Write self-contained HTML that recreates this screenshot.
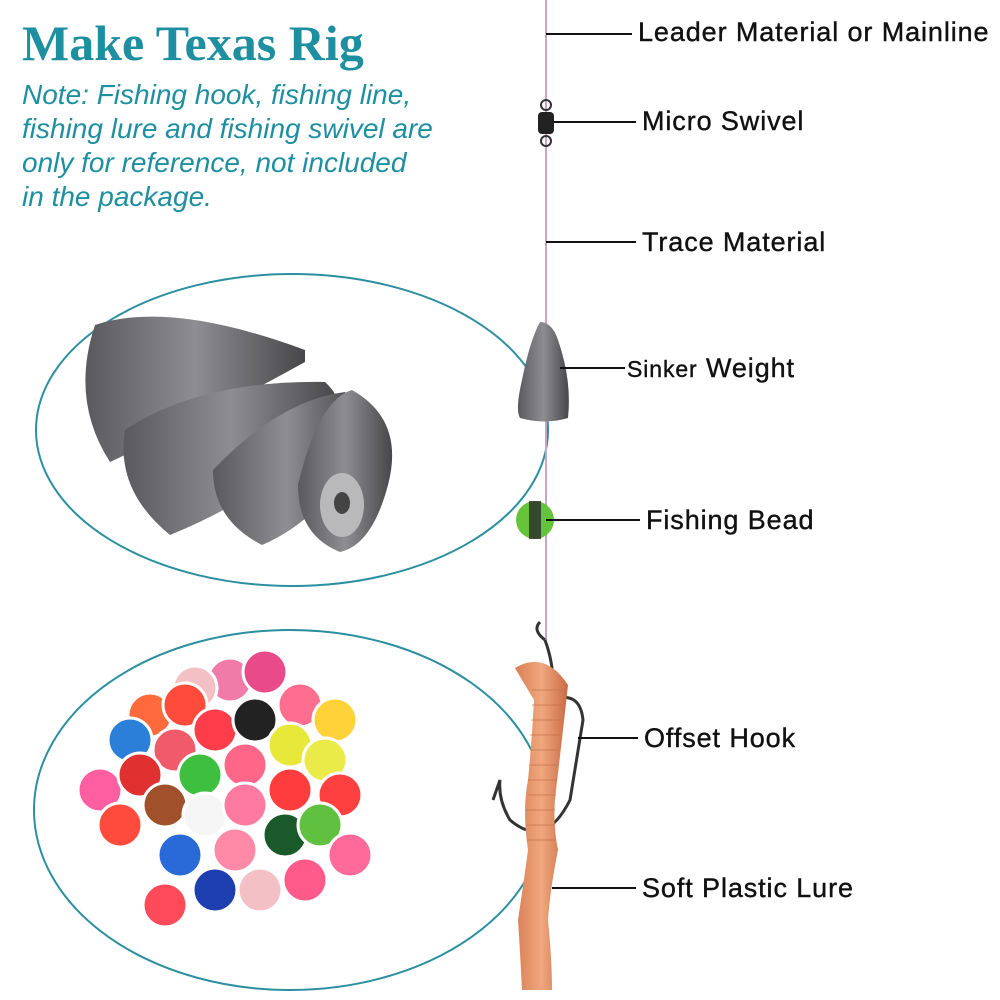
<!DOCTYPE html>
<html><head><meta charset="utf-8"><style>
body{margin:0;width:1000px;height:1000px;background:#fff;overflow:hidden;position:relative;font-family:"Liberation Sans",sans-serif}
.t{position:absolute;left:22px;top:14px;font:bold 50px "Liberation Serif",serif;color:#1e8fa0}
.n{position:absolute;left:22px;top:78px;font:italic 28px/34px "Liberation Sans",sans-serif;color:#1e8fa0;width:460px;white-space:nowrap}
.l{position:absolute;font-size:27px;color:#111;letter-spacing:0.9px;-webkit-text-stroke:0.4px #111}
</style></head><body>
<div class="t">Make Texas Rig</div>
<div class="n">Note: Fishing hook, fishing line,<br>fishing lure and fishing swivel are<br>only for reference, not included<br>in the package.</div>
<svg width="1000" height="1000" style="position:absolute;left:0;top:0">
<defs>
<linearGradient id="g" x1="0" x2="1"><stop offset="0" stop-color="#5a5a5e"/><stop offset=".5" stop-color="#8e8e92"/><stop offset="1" stop-color="#47474a"/></linearGradient>
<linearGradient id="w" x1="0" x2="1"><stop offset="0" stop-color="#d87f55"/><stop offset=".5" stop-color="#f0a77e"/><stop offset="1" stop-color="#c86b45"/></linearGradient>
</defs>
<ellipse cx="292" cy="430" rx="256" ry="156" fill="none" stroke="#2b8fa0" stroke-width="2"/>
<ellipse cx="290" cy="810" rx="256" ry="180" fill="none" stroke="#2b8fa0" stroke-width="2"/>
<!-- sinkers -->
<path d="M95 325 Q170 300 305 350 L305 362 Q200 420 110 462 Q70 400 95 325Z" fill="url(#g)"/>
<path d="M125 430 Q200 380 325 382 Q345 400 335 420 Q280 490 170 535 Q115 490 125 430Z" fill="url(#g)"/>
<path d="M213 470 Q280 400 345 392 Q370 420 350 470 Q310 525 262 545 Q213 520 213 470Z" fill="url(#g)"/>
<path d="M298 485 Q318 400 352 390 Q405 420 388 485 Q372 545 340 552 Q298 535 298 485Z" fill="url(#g)"/>
<ellipse cx="342" cy="505" rx="22" ry="32" fill="#b9b9bc"/><ellipse cx="342" cy="503" rx="8" ry="11" fill="#444"/>
<!-- beads -->
<g stroke="#fff" stroke-width="3">
<circle cx="230" cy="680" r="22" fill="#f07aa8"/><circle cx="265" cy="672" r="22" fill="#e84a8a"/><circle cx="195" cy="688" r="22" fill="#f3c0c6"/>
<circle cx="150" cy="715" r="22" fill="#ff6a3d"/><circle cx="185" cy="705" r="22" fill="#ff4b3b"/><circle cx="300" cy="705" r="22" fill="#ff6e8e"/><circle cx="335" cy="720" r="22" fill="#ffd23a"/>
<circle cx="130" cy="740" r="22" fill="#2c7fd8"/><circle cx="175" cy="750" r="22" fill="#f05a6a"/><circle cx="215" cy="730" r="22" fill="#ff3d4a"/><circle cx="255" cy="720" r="22" fill="#222"/><circle cx="290" cy="745" r="22" fill="#e8e83a"/><circle cx="325" cy="760" r="22" fill="#eaea48"/>
<circle cx="100" cy="790" r="22" fill="#ff5ea0"/><circle cx="140" cy="775" r="22" fill="#e03030"/><circle cx="200" cy="775" r="22" fill="#3fbf3f"/><circle cx="245" cy="765" r="22" fill="#ff6688"/><circle cx="290" cy="790" r="22" fill="#ff3d3d"/><circle cx="340" cy="795" r="22" fill="#ff4040"/>
<circle cx="120" cy="825" r="22" fill="#ff4b3b"/><circle cx="165" cy="805" r="22" fill="#a0502a"/><circle cx="205" cy="815" r="22" fill="#f5f5f5"/><circle cx="245" cy="805" r="22" fill="#ff7aa0"/><circle cx="285" cy="835" r="22" fill="#1a5a2a"/><circle cx="320" cy="825" r="22" fill="#60c040"/>
<circle cx="180" cy="855" r="22" fill="#2a6ad8"/><circle cx="235" cy="850" r="22" fill="#ff8aa8"/><circle cx="350" cy="855" r="22" fill="#ff6a9a"/>
<circle cx="215" cy="890" r="22" fill="#1e3fb0"/><circle cx="260" cy="890" r="22" fill="#f3c0c6"/><circle cx="305" cy="880" r="22" fill="#ff5a8a"/><circle cx="165" cy="905" r="22" fill="#ff4a5a"/>
</g>
<!-- line -->
<line x1="546" y1="0" x2="546" y2="640" stroke="#c9a4c8" stroke-width="2"/>
<!-- swivel -->
<rect x="538" y="112" width="16" height="22" rx="4" fill="#222"/><circle cx="546" cy="105" r="5" fill="none" stroke="#333" stroke-width="2"/><circle cx="546" cy="141" r="5" fill="none" stroke="#333" stroke-width="2"/>
<!-- sinker -->
<path d="M540 322 Q530 340 522 380 Q515 410 520 418 Q545 425 568 418 Q572 380 558 340 Q552 322 540 322Z" fill="url(#g)"/>
<!-- bead -->
<circle cx="535" cy="520" r="19" fill="#66c43a"/><rect x="529" y="501" width="12" height="38" fill="#2a2a2a" opacity=".8"/>
<!-- hook -->
<path d="M545 640 Q532 630 540 622 M545 640 Q556 670 552 700 Q580 690 583 720 L570 800 Q545 850 510 820 Q498 800 500 780 L493 800" fill="none" stroke="#333" stroke-width="3"/>
<!-- worm -->
<path d="M515 668 Q545 650 568 685 Q562 740 556 790 Q552 820 558 850 Q550 890 548 920 Q552 960 552 990 L522 990 Q520 950 518 920 Q524 880 528 850 Q522 810 528 780 Q532 740 534 700 Q522 680 515 668Z" fill="url(#w)"/>
<g stroke="#c06a44" stroke-width="1" opacity=".6">
<line x1="532" y1="690" x2="562" y2="690"/><line x1="532" y1="705" x2="562" y2="705"/><line x1="531" y1="720" x2="561" y2="720"/><line x1="530" y1="735" x2="560" y2="735"/><line x1="530" y1="750" x2="559" y2="750"/><line x1="529" y1="765" x2="558" y2="765"/><line x1="528" y1="780" x2="557" y2="780"/><line x1="528" y1="795" x2="556" y2="795"/><line x1="526" y1="810" x2="555" y2="810"/><line x1="526" y1="825" x2="555" y2="825"/><line x1="527" y1="840" x2="556" y2="840"/>
</g>
<!-- connectors -->
<g stroke="#111" stroke-width="2">
<line x1="546" y1="34" x2="632" y2="34"/><line x1="554" y1="122" x2="636" y2="122"/><line x1="546" y1="242" x2="636" y2="242"/>
<line x1="560" y1="368" x2="625" y2="368"/><line x1="546" y1="520" x2="640" y2="520"/><line x1="578" y1="738" x2="638" y2="738"/><line x1="552" y1="888" x2="636" y2="888"/>
</g>
</svg>
<div class="l" style="left:638px;top:17px">Leader Material or Mainline</div>
<div class="l" style="left:642px;top:106px">Micro Swivel</div>
<div class="l" style="left:642px;top:227px">Trace Material</div>
<div class="l" style="left:627px;top:353px"><span style="font-size:23px">Sinker</span> Weight</div>
<div class="l" style="left:646px;top:505px">Fishing Bead</div>
<div class="l" style="left:644px;top:723px">Offset Hook</div>
<div class="l" style="left:642px;top:873px">Soft Plastic Lure</div>
</body></html>
